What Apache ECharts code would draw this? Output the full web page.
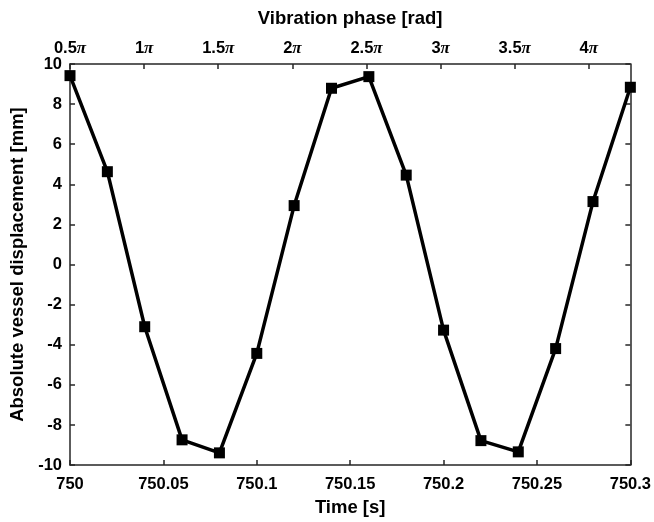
<!DOCTYPE html>
<html>
<head>
<meta charset="utf-8">
<script src="https://cdn.jsdelivr.net/npm/echarts@6/dist/echarts.min.js"></script>
<style>
  html, body { margin: 0; padding: 0; background: #fff; }
  #chart { width: 654px; height: 522px; }
</style>
</head>
<body>
<div id="chart"></div>
<script>
// Sample times [s] and measured displacement [mm]
const timeS = [750, 750.02, 750.04, 750.06, 750.08, 750.10, 750.12, 750.14,
               750.16, 750.18, 750.20, 750.22, 750.24, 750.26, 750.28, 750.30];
const displacementMm = [9.42, 4.63, -3.10, -8.74, -9.39, -4.43, 2.94, 8.79,
                        9.37, 4.46, -3.27, -8.78, -9.34, -4.19, 3.14, 8.84];
// Phase axis range (in units of π) spanning the same time window
const phaseRange = [0.5, 4.28];
const timeRange = [750, 750.3];
const dispRange = [-10, 10];

const axisColor = '#262626';
const font = '"Liberation Sans", Arial, Helvetica, sans-serif';

const chart = echarts.init(document.getElementById('chart'), null, { renderer: 'canvas' });

const baseAxisLine = { show: true, onZero: false, lineStyle: { color: axisColor, width: 1.5 } };
const baseTick = { show: true, inside: true, length: 5, lineStyle: { color: axisColor, width: 1.5 } };
const baseLabel = { color: '#000', fontFamily: font, fontWeight: 'bold', fontSize: 16.5 };
const nameStyle = { color: '#000', fontFamily: font, fontWeight: 'bold', fontSize: 18.5 };

chart.setOption({
  animation: false,
  backgroundColor: '#fff',
  grid: { left: 70, right: 23, top: 64, bottom: 54, containLabel: false },
  xAxis: [
    {
      type: 'value',
      position: 'bottom',
      min: timeRange[0], max: timeRange[1], interval: 0.05,
      name: 'Time [s]', nameLocation: 'middle', nameGap: 31, nameTextStyle: nameStyle,
      axisLine: baseAxisLine, axisTick: baseTick,
      axisLabel: Object.assign({}, baseLabel, {
        margin: 11,
        formatter: v => String(+v.toFixed(2))
      }),
      splitLine: { show: false }
    },
    {
      type: 'value',
      position: 'top',
      min: phaseRange[0], max: phaseRange[1], interval: 0.5,
      name: 'Vibration phase [rad]', nameLocation: 'middle', nameGap: 36, nameTextStyle: nameStyle,
      axisLine: baseAxisLine, axisTick: baseTick,
      axisLabel: Object.assign({}, baseLabel, {
        margin: 7,
        showMaxLabel: false,
        formatter: v => {
          const r = Math.round(v * 2) / 2;
          if (Math.abs(r - v) > 1e-6) return '';
          const num = Number.isInteger(r) ? String(r) : r.toFixed(1);
          return '{n|' + num + '}{p|π}';
        },
        rich: {
          n: { fontFamily: font, fontWeight: 'bold', fontSize: 16.5, color: '#000' },
          p: { fontFamily: '"Liberation Serif", "Times New Roman", serif', fontStyle: 'italic', fontSize: 17, color: '#000' }
        }
      }),
      splitLine: { show: false }
    }
  ],
  yAxis: [
    {
      type: 'value',
      position: 'left',
      min: dispRange[0], max: dispRange[1], interval: 2,
      name: 'Absolute vessel displacement [mm]', nameLocation: 'middle', nameGap: 40, nameTextStyle: nameStyle,
      axisLine: baseAxisLine, axisTick: baseTick,
      axisLabel: Object.assign({}, baseLabel, { margin: 8 }),
      splitLine: { show: false }
    },
    {
      type: 'value',
      position: 'right',
      min: dispRange[0], max: dispRange[1], interval: 2,
      axisLine: baseAxisLine, axisTick: baseTick,
      axisLabel: { show: false },
      splitLine: { show: false }
    }
  ],
  series: [
    {
      type: 'line',
      xAxisIndex: 0,
      yAxisIndex: 0,
      data: timeS.map((t, i) => [t, displacementMm[i]]),
      symbol: 'rect',
      symbolSize: 11,
      showAllSymbol: true,
      lineStyle: { color: '#000', width: 3.5 },
      itemStyle: { color: '#000' },
      clip: false
    }
  ]
});
</script>
</body>
</html>
